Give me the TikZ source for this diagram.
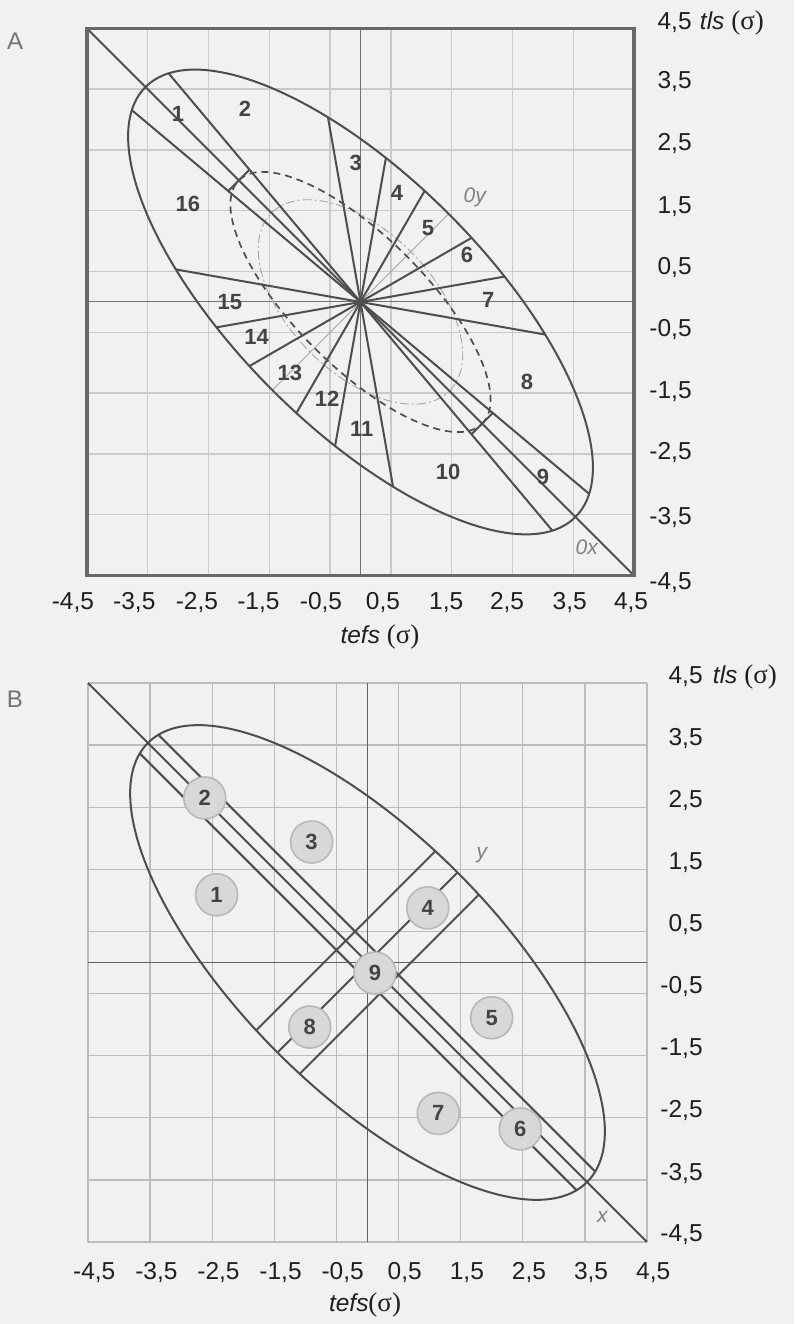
\documentclass[tikz,border=0pt]{standalone}
\usepackage{fontspec}
\setmainfont{Liberation Sans}
\newfontfamily\sigmafont{Liberation Serif}
\usetikzlibrary{calc,positioning}
\definecolor{paper}{RGB}{241,241,239}
\definecolor{gridgray}{RGB}{202,202,200}
\definecolor{gridgrayB}{RGB}{188,188,186}
\definecolor{inkgray}{RGB}{78,78,78}
\definecolor{framegray}{RGB}{105,103,103}
\definecolor{numgray}{RGB}{68,68,68}
\definecolor{discfill}{RGB}{216,216,214}
\definecolor{discline}{RGB}{184,184,182}

\begin{document}
\begin{tikzpicture}[x=1bp,y=1bp]
\tikzstyle{every node}=[inner sep=0pt]
\tikzstyle{tick}=[font=\fontsize{24.5bp}{28bp}\selectfont, text=black!88]
\tikzstyle{sector}=[font=\fontsize{22bp}{24bp}\selectfont\bfseries, text=numgray]
\tikzstyle{disc}=[circle, draw=discline, fill=discfill, line width=1.6bp, minimum size=42bp, font=\fontsize{22bp}{24bp}\selectfont\bfseries, text=numgray]
\tikzstyle{axname}=[font=\fontsize{21bp}{24bp}\selectfont\itshape, text=black!50]
\tikzstyle{panel}=[font=\fontsize{24bp}{28bp}\selectfont, text=black!55]
\tikzstyle{contour}=[draw=inkgray, line width=2bp]
\tikzstyle{faint}=[draw=black!35, line width=0.9bp]
\tikzstyle{gridA}=[draw=gridgray, line width=1.4bp]
\tikzstyle{gridB}=[draw=gridgrayB, line width=1.4bp]
\tikzstyle{axisline}=[draw=black!55, line width=1bp]
\tikzstyle{frameA}=[draw=framegray, line width=3.5bp]
\useasboundingbox (0,0) rectangle (794,1324);
\fill[paper] (0,0) rectangle (794,1324);

% A
\begin{scope}[shift={(360.5,1022)}, x=60.8bp, y=60.8bp]
\foreach \v in {-3.5,-2.5,...,3.5} {
  \draw[gridA] (\v,-4.5) -- (\v,4.5);
  \draw[gridA] (-4.5,\v) -- (4.5,\v);
}
\draw[axisline] (0,-4.5) -- (0,4.5);
\draw[axisline] (-4.5,0) -- (4.5,0);
\draw[faint] (-1.45,-1.45) -- (1.45,1.45);
\draw[faint, dash pattern=on 9bp off 3bp on 2bp off 3bp, rotate=-45] (0,0) ellipse [x radius=2.07, y radius=1.17];
\draw[contour, line width=1.7bp, dash pattern=on 7bp off 5bp, rotate=-45] (0,0) ellipse [x radius=2.83, y radius=1.07];
\draw[contour, rotate=-45] (0,0) ellipse [x radius=5, y radius=2.05];
\draw[contour] (-4.5,4.5) -- (4.5,-4.5);
\foreach \t in {10,30,60,80,100,130,140,170,190,210,240,260,280,310,320,350} {
  \pgfmathsetmacro\r{1/sqrt(cos(\t+45)*cos(\t+45)/25+sin(\t+45)*sin(\t+45)/4.2025)}
  \draw[contour] (0,0) -- (\t:\r);
}
\draw[contour] (130:2.84) -- (140:2.84);
\draw[contour] (310:2.84) -- (320:2.84);
\draw[frameA] (-4.5,-4.5) rectangle (4.5,4.5);
\foreach \n/\px/\py in {1/-3.0/3.1, 2/-1.9/3.18, 3/-0.08/2.28, 4/0.6/1.79, 5/1.11/1.21, 6/1.75/0.77, 7/2.1/0.03, 8/2.74/-1.32, 9/3.0/-2.88, 10/1.44/-2.8, 11/0.02/-2.08, 12/-0.55/-1.59, 13/-1.16/-1.17, 14/-1.71/-0.58, 15/-2.15/0.0, 16/-2.84/1.62}
  \node[sector] (s\n) at (\px,\py) {\n};
\node[axname] (oyA) at (1.88,1.72) {0y};
\node[axname] (oxA) at (3.72,-4.04) {0x};
\node[panel] (capA) at (-5.68,4.29) {A};
\foreach \px/\lab in {-4.73/-4{,}5, -3.72/-3{,}5, -2.69/-2{,}5, -1.68/-1{,}5, -0.65/-0{,}5, 0.37/0{,}5, 1.41/1{,}5, 2.41/2{,}5, 3.44/3{,}5, 4.45/4{,}5}
  \node[tick] at (\px,-4.95) {\lab};
\foreach \py/\lab in {4.59/4{,}5, 3.62/3{,}5, 2.61/2{,}5, 1.56/1{,}5, 0.56/0{,}5, -0.46/-0{,}5, -1.48/-1{,}5, -2.48/-2{,}5, -3.54/-3{,}5, -4.62/-4{,}5}
  \node[tick, anchor=east] at (5.45,\py) {\lab};
\node[tick, anchor=west] (tlsA) at (5.58,4.59) {\textit{tls} {\sigmafont\fontsize{27bp}{30bp}\selectfont(σ)}};
\node[tick] (tefsA) at (0.32,-5.51) {\textit{tefs} {\sigmafont\fontsize{27bp}{30bp}\selectfont(σ)}};
\end{scope}

% B
\begin{scope}[shift={(367.5,361.5)}, x=62.1bp, y=62.1bp]
\foreach \v in {-4.5,-3.5,...,4.5} {
  \draw[gridB] (\v,-4.5) -- (\v,4.5);
  \draw[gridB] (-4.5,\v) -- (4.5,\v);
}
\draw[axisline, draw=black!62] (0,-4.5) -- (0,4.5);
\draw[axisline, draw=black!62] (-4.5,0) -- (4.5,0);
\begin{scope}[rotate=-45]
\draw[contour] (0,0) ellipse [x radius=5, y radius=2.05];
\pgfmathsetmacro\ul{5*sqrt(1-(0.212/2.05)^2)}
\draw[contour] (-\ul,0.212) -- (\ul,0.212);
\draw[contour] (-\ul,-0.212) -- (\ul,-0.212);
\pgfmathsetmacro\vl{2.05*sqrt(1-(0.495/5)^2)}
\draw[contour] (-0.495,-\vl) -- (-0.495,\vl);
\draw[contour] (0.495,-\vl) -- (0.495,\vl);
\draw[contour] (0,-2.05) -- (0,2.05);
\end{scope}
\draw[contour] (-4.5,4.5) -- (4.5,-4.5);
\foreach \n/\px/\py in {1/-2.43/1.09, 2/-2.62/2.65, 3/-0.9/1.94, 4/0.97/0.88, 5/2.0/-0.89, 6/2.46/-2.68, 7/1.14/-2.43, 8/-0.93/-1.04, 9/0.12/-0.17}
  \node[disc] (c\n) at (\px,\py) {\n};
\node[axname] (yB) at (1.84,1.73) {y};
\node[axname] (xB) at (3.78,-4.1) {x};
\node[panel] (capB) at (-5.68,4.24) {B};
\foreach \v/\lab in {-4.5/-4{,}5, -3.5/-3{,}5, -2.5/-2{,}5, -1.5/-1{,}5, -0.5/-0{,}5, 0.5/0{,}5, 1.5/1{,}5, 2.5/2{,}5, 3.5/3{,}5, 4.5/4{,}5}
  \node[tick] at (\v+0.1,-5.0) {\lab};
\foreach \v/\lab in {4.5/4{,}5, 3.5/3{,}5, 2.5/2{,}5, 1.5/1{,}5, 0.5/0{,}5, -0.5/-0{,}5, -1.5/-1{,}5, -2.5/-2{,}5, -3.5/-3{,}5, -4.5/-4{,}5}
  \node[tick, anchor=east] at (5.40,\v+0.11) {\lab};
\node[tick, anchor=west] (tlsB) at (5.56,4.6) {\textit{tls} {\sigmafont\fontsize{27bp}{30bp}\selectfont(σ)}};
\node[tick] (tefsB) at (-0.04,-5.52) {\textit{tefs}{\sigmafont\fontsize{27bp}{30bp}\selectfont(σ)}};
\end{scope}
\end{tikzpicture}
\end{document}
